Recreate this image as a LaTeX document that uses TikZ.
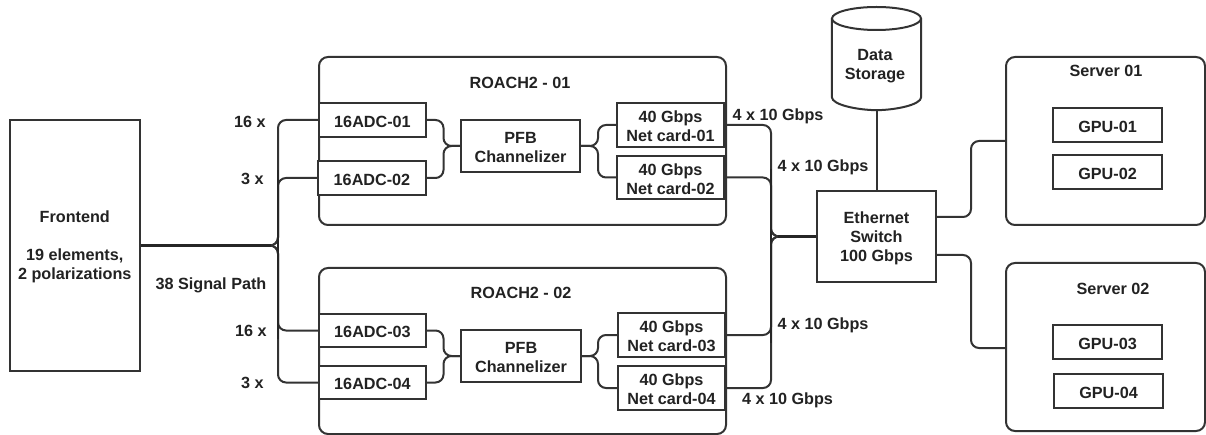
\documentclass[tikz,border=0pt]{standalone}
\usepackage{fontspec}
\setmainfont{Liberation Sans}
\definecolor{ink}{HTML}{333333}
\definecolor{txt}{HTML}{222222}
\tikzset{
  every node/.style={font=\fontsize{16.2}{19}\selectfont\bfseries, text=txt, align=center, inner sep=0pt},
  boxs/.style={draw=ink, line width=2pt, fill=white},
  round box/.style={draw=ink, line width=2pt, rounded corners=9pt},
  conn/.style={draw=ink, line width=2pt, rounded corners=8pt},
  trunk/.style={draw=black!85, line width=2.7pt},
  cyl/.style={draw=ink, line width=2pt, fill=white}
}
\newcommand{\bx}[6]{\node[boxs, minimum width=#4-#2, minimum height=#5-#3, label={[yshift=-1.7pt]center:{#6}}] (#1) at ({(#2+#4)/2},{(#3+#5)/2}) {};}
\begin{document}
\begin{tikzpicture}[x=1pt,y=-1pt]
\useasboundingbox (0,0) rectangle (1206,435);
% containers
\node[round box, minimum width=407pt, minimum height=168pt] (r1) at (522.5,141) {};
\node[round box, minimum width=407pt, minimum height=166pt] (r2) at (522.5,351) {};
\node[round box, minimum width=199pt, minimum height=168pt] (s1) at (1105.5,141) {};
\node[round box, minimum width=199pt, minimum height=168pt] (s2) at (1105.5,347) {};
% boxes
\bx{fe}{9.5}{120}{140}{371}{Frontend\\[19pt]19 elements,\\2 polarizations}
\bx{adca}{319}{103}{426}{137}{16ADC-01}
\bx{adcb}{318}{161}{426}{195}{16ADC-02}
\bx{adcc}{319}{314}{426}{347}{16ADC-03}
\bx{adcd}{319}{366}{426}{399}{16ADC-04}
\bx{pfba}{461}{120}{580}{172}{PFB\\Channelizer}
\bx{pfbb}{461}{330}{581}{382}{PFB\\Channelizer}
\bx{neta}{617}{103}{724}{147}{40 Gbps\\Net card-01}
\bx{netb}{617}{156}{724}{199}{40 Gbps\\Net card-02}
\bx{netc}{618}{313}{725}{357}{40 Gbps\\Net card-03}
\bx{netd}{618}{366}{725}{410}{40 Gbps\\Net card-04}
\bx{sw}{817}{191}{936}{282}{Ethernet\\Switch\\100 Gbps}
\bx{ga}{1053}{108}{1162}{142}{GPU-01}
\bx{gb}{1053}{155}{1162}{189}{GPU-02}
\bx{gc}{1053}{325}{1162}{359}{GPU-03}
\bx{gd}{1054}{374}{1163}{408}{GPU-04}
% storage cylinder
\node[minimum width=89pt, minimum height=103pt] (ds) at (876.5,58.5) {};
\draw[cyl] (ds.west |- 0,18.5) -- (ds.west |- 0,97)
  .. controls (ds.west |- 0,105) and (858,110) .. (ds.south)
  .. controls (895,110) and (ds.east |- 0,105) .. (ds.east |- 0,97)
  -- (ds.east |- 0,18.5);
\draw[cyl] (876.5,18.5) ellipse [x radius=44.5, y radius=11.5];
% routing guides
\coordinate (busl) at (278,245.5);
\coordinate (jpa) at (443.5,146);
\coordinate (jpb) at (443.5,356);
\coordinate (jqa) at (598,146);
\coordinate (jqb) at (598,356);
\coordinate (busr) at (771,236.5);
\coordinate (busx) at (971,236.5);
\coordinate (swa) at (936,217);
\coordinate (swb) at (936,255);
\coordinate (ina) at (1006,141);
\coordinate (inb) at (1006,348);
% connectors
\draw[conn] (fe.east) -- (fe.east -| busl) -- (adca.west -| busl) -- (adca.west);
\draw[conn] (fe.east) -- (fe.east -| busl) -- (adcb.west -| busl) -- (adcb.west);
\draw[conn] (fe.east) -- (fe.east -| busl) -- (adcc.west -| busl) -- (adcc.west);
\draw[conn] (fe.east) -- (fe.east -| busl) -- (adcd.west -| busl) -- (adcd.west);
\draw[trunk] (fe.east) -- ([xshift=-7pt]fe.east -| busl);
\draw[conn] (adca.east) -- (adca.east -| jpa) -- (jpa) -- (pfba.west);
\draw[conn] (adcb.east) -- (adcb.east -| jpa) -- (jpa) -- (pfba.west);
\draw[conn] (adcc.east) -- (adcc.east -| jpb) -- (jpb) -- (pfbb.west);
\draw[conn] (adcd.east) -- (adcd.east -| jpb) -- (jpb) -- (pfbb.west);
\draw[conn] (pfba.east) -- (jqa) -- (jqa |- neta.west) -- (neta.west);
\draw[conn] (pfba.east) -- (jqa) -- (jqa |- netb.west) -- (netb.west);
\draw[conn] (pfbb.east) -- (jqb) -- (jqb |- netc.west) -- (netc.west);
\draw[conn] (pfbb.east) -- (jqb) -- (jqb |- netd.west) -- (netd.west);
\draw[conn] (neta.east) -- (neta.east -| busr) -- (busr) -- (sw.west);
\draw[conn] (netb.east) -- (netb.east -| busr) -- (busr) -- (sw.west);
\draw[conn] (netc.east) -- (netc.east -| busr) -- (busr) -- (sw.west);
\draw[conn] (netd.east) -- (netd.east -| busr) -- (busr) -- (sw.west);
\draw[trunk] ([xshift=7pt]busr) -- (sw.west);
\draw[trunk, line width=2.4pt] ([yshift=8pt]busl |- adcb.west) -- ([yshift=-8pt]busl |- adcc.west);
\draw[trunk, line width=2.4pt] ([yshift=8pt]busr |- netb.east) -- ([yshift=-8pt]busr |- netc.east);
\draw[conn] (sw.north -| ds.south) -- (ds.south);
\draw[conn] (swa) -- (swa -| busx) -- (busx |- ina) -- (ina);
\draw[conn] (swb) -- (swb -| busx) -- (busx |- inb) -- (inb);
% texts
\node (tds) at (875,66) {Data\\Storage};
\node (tr1) at (520,82.5) {ROACH2 - 01};
\node (tr2) at (521,292.5) {ROACH2 - 02};
\node (ts1) at (1106,70.5) {Server 01};
\node (ts2) at (1113,288.5) {Server 02};
\node (l1) at (250,122) {16 x};
\node (l2) at (252.5,178.5) {3 x};
\node (l3) at (211,285.5) {38 Signal Path};
\node (l4) at (251,331) {16 x};
\node (l5) at (252.5,382.5) {3 x};
\node (g1) at (778,116.5) {4 x 10 Gbps};
\node (g2) at (823,167.5) {4 x 10 Gbps};
\node (g3) at (823,325.5) {4 x 10 Gbps};
\node (g4) at (787.5,400.5) {4 x 10 Gbps};
\end{tikzpicture}
\end{document}
